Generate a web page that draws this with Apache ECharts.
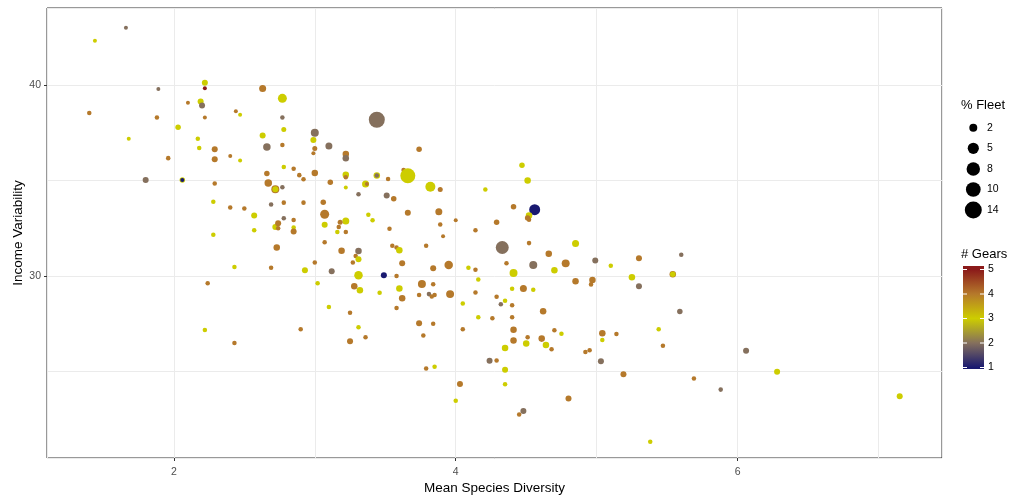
<!DOCTYPE html>
<html>
<head>
<meta charset="utf-8">
<script src="https://cdn.jsdelivr.net/npm/echarts@6/dist/echarts.min.js"></script>
<style>
  html, body { margin: 0; padding: 0; background: #fff; }
  #chart { width: 1014px; height: 497px; }
</style>
</head>
<body>
<div id="chart"></div>
<script>
// values, one entry per fleet
const diversity = [
  1.66, 1.44, 1.89, 2.22, 2.22, 2.63, 1.40, 1.88, 2.10, 2.19, 2.20, 2.22, 2.44, 2.47, 1.68, 2.03,
  2.17, 2.18, 2.29, 2.29, 2.40, 2.47, 2.63, 2.66, 1.96, 1.80, 2.06, 2.06, 2.29, 2.66, 2.67, 2.72,
  2.72, 2.28, 2.40, 2.50, 2.57, 2.69, 2.57, 2.72, 2.28, 2.43, 2.69, 2.24, 2.22, 2.43, 2.77, 2.77,
  2.78, 2.77, 2.78, 2.85, 2.89, 2.92, 3.00, 2.99, 3.00, 2.99, 3.00, 3.10, 3.22, 3.22, 3.44, 3.11,
  3.22, 3.22, 3.22, 3.31, 3.36, 3.37, 3.44, 3.44, 3.52, 3.51, 3.56, 3.63, 3.66, 3.74, 3.82, 3.89,
  3.66, 3.88, 3.89, 4.00, 3.91, 3.53, 3.38, 3.41, 3.22, 3.18, 3.17, 3.16, 3.22, 3.07, 3.07, 3.06,
  2.92, 2.78, 2.77, 2.78, 2.85, 2.85, 2.85, 2.74, 2.74, 4.47, 4.51, 4.21, 4.41, 4.56, 4.52, 4.51,
  4.52, 4.29, 4.14, 2.73, 3.07, 3.19, 3.31, 3.29, 3.31, 3.27, 3.00, 2.93, 3.12, 3.31, 3.49, 3.55,
  3.58, 3.60, 3.62, 3.58, 3.79, 3.84, 3.95, 4.09, 3.02, 3.28, 3.32, 3.46, 3.60, 3.62, 3.76, 3.84,
  3.74, 3.81, 3.83, 3.85, 3.96, 4.05, 3.10, 3.25, 3.58, 3.31, 2.90, 3.36, 3.25, 3.74, 3.84, 3.77,
  4.05, 3.79, 3.85, 4.03, 4.00, 4.33, 4.52, 4.85, 4.66, 4.36, 4.55, 4.78, 4.99, 5.30, 5.10, 4.14,
  4.41, 4.70, 4.16, 4.85, 4.97, 4.96, 5.25, 5.30, 5.54, 5.54, 5.59, 4.14, 4.40, 4.48, 4.55, 4.29,
  4.35, 4.32, 4.40, 4.62, 4.16, 4.26, 4.40, 4.41, 4.70, 4.75, 4.51, 4.61, 4.41, 4.50, 4.64, 4.35,
  4.68, 5.04, 5.14, 5.04, 5.44, 5.47, 4.92, 4.95, 4.24, 4.29, 5.03, 4.35, 4.35, 5.19, 4.80, 4.48,
  4.45, 5.38, 5.60, 6.06, 5.69, 5.88, 6.28, 7.15
]
const variability = [
  43.00, 42.32, 39.79, 40.12, 39.83, 39.81, 38.53, 38.30, 39.07, 39.14, 38.93, 38.30, 38.63, 38.44, 37.19, 37.79,
  37.19, 36.70, 36.63, 36.11, 36.28, 36.04, 37.35, 36.75, 36.17, 35.02, 35.02, 35.02, 34.84, 35.37, 34.87, 34.54,
  34.54, 33.88, 33.59, 33.53, 33.16, 33.74, 32.39, 32.56, 32.16, 30.47, 30.43, 29.62, 27.17, 26.49, 39.30, 38.30,
  37.67, 36.86, 35.70, 35.61, 35.28, 35.07, 37.50, 37.12, 36.68, 36.42, 35.39, 36.81, 36.38, 36.16, 38.18, 34.91,
  35.30, 35.17, 34.63, 34.28, 34.82, 34.82, 35.26, 35.26, 35.08, 34.21, 34.04, 35.55, 35.25, 36.63, 34.67, 34.53,
  33.31, 33.36, 32.70, 32.92, 32.08, 32.47, 33.21, 32.92, 32.88, 32.81, 32.57, 32.30, 32.30, 33.23, 32.68, 33.86,
  33.84, 33.84, 34.65, 33.02, 32.93, 32.54, 32.33, 32.76, 32.50, 35.80, 35.00, 34.53, 33.62, 33.47, 33.16, 33.04,
  32.94, 32.81, 32.39, 31.49, 31.77, 31.32, 31.31, 31.05, 30.88, 30.70, 30.70, 30.30, 30.25, 30.04, 30.04, 31.58,
  31.49, 31.35, 30.67, 30.00, 31.58, 30.41, 30.58, 30.43, 29.62, 29.46, 29.25, 29.12, 29.35, 28.84, 29.58, 29.57,
  29.00, 29.05, 28.93, 29.00, 29.05, 28.56, 28.37, 28.07, 28.32, 27.32, 27.21, 26.79, 26.58, 27.53, 27.50, 26.88,
  27.21, 25.16, 25.25, 24.35, 23.47, 31.49, 31.72, 31.70, 31.16, 30.67, 30.58, 30.66, 30.81, 30.93, 30.53, 30.33,
  30.16, 30.30, 29.81, 29.72, 29.79, 29.56, 29.93, 29.46, 30.09, 30.09, 28.14, 29.14, 29.33, 29.35, 29.28, 28.91,
  28.70, 28.52, 28.47, 28.15, 27.84, 27.79, 27.84, 27.19, 27.16, 26.98, 26.79, 26.72, 26.62, 26.47, 26.38, 26.23,
  26.16, 27.00, 26.96, 26.65, 27.21, 26.35, 26.02, 26.11, 25.56, 25.58, 25.54, 25.09, 24.33, 24.86, 23.59, 22.93,
  22.75, 21.32, 31.11, 26.09, 24.63, 24.05, 24.98, 23.70
]
const fleet = [
  0.15, 0.15, 0.15, 0.82, 0.15, 1.35, 0.27, 0.27, 0.15, 0.82, 0.82, 0.15, 0.15, 0.15, 0.15, 0.6,
  0.27, 0.27, 0.82, 0.82, 0.15, 0.15, 0.82, 1.67, 0.27, 0.82, 0.6, 0.15, 0.27, 0.6, 1.67, 2.0,
  0.82, 0.27, 0.27, 0.27, 0.82, 0.27, 0.27, 0.82, 0.27, 0.27, 0.27, 0.27, 0.27, 0.27, 2.8, 0.27,
  0.42, 0.27, 0.27, 0.27, 0.27, 0.27, 2.0, 0.82, 0.42, 0.15, 1.07, 1.35, 1.07, 1.07, 12.2, 0.6,
  1.07, 0.27, 0.15, 0.27, 1.35, 0.15, 1.07, 0.27, 0.27, 0.82, 0.6, 0.27, 10.4, 0.6, 3.75, 0.42,
  0.82, 1.35, 0.27, 0.15, 0.15, 0.27, 0.27, 0.27, 1.35, 0.42, 0.27, 0.27, 0.27, 2.8, 0.82, 0.6,
  0.27, 0.27, 0.27, 0.27, 0.27, 0.27, 0.82, 0.82, 0.27, 0.6, 1.07, 0.27, 0.6, 4.8, 1.07, 0.6,
  0.27, 0.6, 0.27, 1.07, 0.27, 1.07, 1.07, 0.27, 0.82, 0.27, 0.27, 0.82, 0.82, 2.4, 0.82, 0.27,
  0.27, 1.07, 0.82, 0.27, 0.27, 0.82, 2.4, 0.27, 0.27, 1.07, 1.07, 0.27, 1.07, 1.07, 2.0, 0.27,
  0.27, 0.27, 0.27, 0.27, 2.0, 0.27, 0.27, 0.27, 0.27, 0.27, 0.27, 0.27, 0.82, 0.82, 0.27, 0.27,
  0.27, 0.27, 0.27, 0.82, 0.27, 7.35, 0.27, 1.35, 1.07, 0.27, 2.0, 2.0, 0.82, 0.82, 0.27, 0.27,
  2.0, 1.07, 0.27, 1.07, 1.07, 0.27, 1.07, 0.82, 1.07, 0.6, 0.6, 0.27, 0.27, 1.35, 0.27, 0.27,
  0.27, 0.27, 0.27, 1.07, 0.27, 0.27, 0.27, 1.07, 0.27, 0.27, 0.27, 1.07, 1.07, 1.07, 1.07, 1.07,
  0.27, 1.07, 0.27, 0.27, 0.27, 0.27, 0.27, 0.27, 0.82, 0.27, 0.82, 0.82, 0.27, 0.82, 0.82, 0.82,
  0.27, 0.27, 0.27, 0.82, 0.27, 0.27, 0.82, 0.82
]
const gears = [
  2, 3, 2, 3, 5, 4, 4, 4, 4, 3, 2, 4, 4, 3, 3, 3,
  3, 3, 4, 4, 4, 3, 3, 2, 4, 2, 3, 1, 4, 4, 4, 4,
  3, 3, 4, 4, 3, 2, 3, 3, 3, 3, 4, 4, 3, 4, 3, 2,
  3, 4, 3, 4, 4, 4, 2, 3, 4, 4, 4, 2, 4, 2, 2, 4,
  3, 4, 3, 2, 3, 4, 3, 2, 4, 2, 4, 4, 3, 4, 3, 4,
  4, 4, 4, 4, 4, 4, 3, 3, 3, 4, 4, 3, 4, 4, 3, 4,
  4, 4, 2, 2, 4, 3, 4, 4, 4, 3, 3, 3, 4, 1, 3, 4,
  4, 4, 4, 4, 4, 4, 2, 4, 3, 4, 4, 3, 2, 3, 1, 4,
  4, 3, 4, 4, 4, 4, 4, 3, 3, 4, 3, 3, 3, 4, 4, 4,
  4, 2, 4, 4, 4, 3, 3, 4, 4, 3, 4, 4, 4, 4, 4, 4,
  4, 4, 3, 4, 3, 2, 4, 3, 4, 4, 2, 4, 2, 4, 3, 4,
  3, 3, 3, 4, 4, 4, 3, 2, 4, 3, 2, 4, 3, 4, 3, 4,
  3, 2, 4, 4, 3, 4, 4, 4, 4, 3, 4, 4, 4, 3, 3, 3,
  4, 4, 4, 3, 3, 4, 4, 4, 2, 4, 2, 3, 3, 4, 4, 2,
  4, 3, 2, 2, 4, 2, 3, 3
]

const xTicks = [2, 4, 6]
const yTicks = [30, 40]
const fleetBreaks = [2, 5, 8, 10, 14]
const gearBreaks = [5, 4, 3, 2, 1]

// colour ramp: midnightblue -> yellow3 -> darkred
const gearColors = ['#191970', '#85705d', '#cdcd00', '#b5792b', '#8b1a1a']

// diameter grows with sqrt of % fleet (area scale)
const dotSize = (v) => 2.5 + 15 * Math.sqrt(v / 15)

const points = diversity.map((x, i) => [x, variability[i], fleet[i], gears[i]])

const font = 'Liberation Sans, Arial, sans-serif'
const chart = echarts.init(document.getElementById('chart'))

// hand-made legends on the right
const legendX = 961
const graphics = []
graphics.push({
  type: 'text', left: legendX, top: 99,
  style: {text: '% Fleet', font: '13px ' + font, fill: '#000'}
})
fleetBreaks.forEach((v, i) => {
  const cy = 127.7 + i * 20.6
  graphics.push({
    type: 'circle', shape: {cx: 973.3, cy: cy, r: dotSize(v) / 2},
    style: {fill: '#000'}
  })
  graphics.push({
    type: 'text', x: 987, y: cy,
    style: {text: String(v), font: '10.5px ' + font, fill: '#000', verticalAlign: 'middle'}
  })
})
graphics.push({
  type: 'text', left: legendX, top: 248,
  style: {text: '# Gears', font: '13px ' + font, fill: '#000'}
})
const barTop = 266, barH = 103, barX = 963, barW = 21
const gearY = (g) => 367.5 - (g - 1) * 24.5
graphics.push({
  type: 'rect', shape: {x: barX, y: barTop, width: barW, height: barH},
  style: {
    fill: new echarts.graphic.LinearGradient(0, 0, 0, 1,
      gearBreaks.map((g) => ({offset: (gearY(g) - barTop) / barH, color: gearColors[g - 1]})))
  }
})
gearBreaks.forEach((g) => {
  const y = gearY(g)
  graphics.push({type: 'line', shape: {x1: barX, y1: y, x2: barX + 4, y2: y}, style: {stroke: '#fff', lineWidth: 1}})
  graphics.push({type: 'line', shape: {x1: barX + barW - 4, y1: y, x2: barX + barW, y2: y}, style: {stroke: '#fff', lineWidth: 1}})
  graphics.push({
    type: 'text', x: 988, y: y,
    style: {text: String(g), font: '10.5px ' + font, fill: '#000', verticalAlign: 'middle'}
  })
})

const gridLine = {lineStyle: {color: '#ebebeb', width: 1}}
const tickStyle = {length: 3, lineStyle: {color: '#333', width: 1}}
const labelStyle = {color: '#4d4d4d', fontSize: 10.5, fontFamily: font}

const option = {
  backgroundColor: '#fff',
  animation: false,
  grid: {
    left: 47, right: 72, top: 8, bottom: 39, containLabel: false, outerBoundsMode: 'none',
    show: true, borderColor: '#333', borderWidth: 1
  },
  xAxis: [
    {
      type: 'value', min: 1.1, max: 7.45, splitNumber: 6,
      splitLine: gridLine, axisLine: {show: false}, axisTick: {show: false}, axisLabel: {show: false}
    },
    {
      type: 'value', min: 1.1, max: 7.45, position: 'bottom',
      splitLine: {show: false}, axisLine: {show: false},
      axisTick: {...tickStyle, customValues: xTicks},
      axisLabel: {...labelStyle, customValues: xTicks, margin: 9},
      name: 'Mean Species Diversity', nameLocation: 'middle', nameGap: 23, nameMoveOverlap: false,
      nameTextStyle: {color: '#000', fontSize: 13.5, fontFamily: font}
    }
  ],
  yAxis: [
    {
      type: 'value', min: 20.47, max: 44.03, splitNumber: 5,
      splitLine: gridLine, axisLine: {show: false}, axisTick: {show: false}, axisLabel: {show: false}
    },
    {
      type: 'value', min: 20.47, max: 44.03, position: 'left',
      splitLine: {show: false}, axisLine: {show: false},
      axisTick: {...tickStyle, customValues: yTicks},
      axisLabel: {...labelStyle, customValues: yTicks, margin: 6},
      name: 'Income Variability', nameLocation: 'middle', nameGap: 22, nameMoveOverlap: false,
      nameTextStyle: {color: '#000', fontSize: 13.5, fontFamily: font}
    }
  ],
  visualMap: {
    show: false, type: 'continuous', dimension: 3, min: 1, max: 5,
    inRange: {color: gearColors}
  },
  series: [{
    type: 'scatter',
    xAxisIndex: 0, yAxisIndex: 0,
    data: points,
    symbol: 'circle',
    symbolSize: (val) => dotSize(val[2]),
    itemStyle: {opacity: 1}
  }],
  graphic: graphics
}

chart.setOption(option)
window.addEventListener('resize', () => chart.resize())
</script>
</body>
</html>
